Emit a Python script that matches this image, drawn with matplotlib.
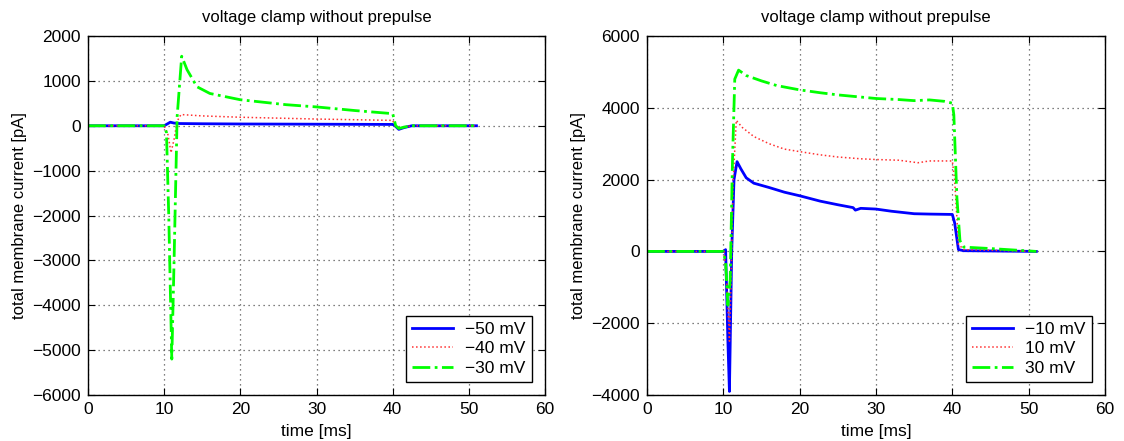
import matplotlib
matplotlib.use("Agg")
import matplotlib.pyplot as plt

# left panel: -50, -40, -30 mV steps
t_m50 = [0, 10, 10.4, 10.8, 11.3, 12, 15, 20, 30, 40, 40.3, 40.8, 41.5, 42.5, 51]
i_m50 = [0, 0, 40, 80, 60, 50, 45, 40, 35, 30, 0, -80, -40, 0, 0]

t_m40 = [0, 10, 10.5, 10.9, 11.3, 11.7, 12.2, 15, 20, 30, 40, 40.3, 40.8, 41.5, 42.5, 51]
i_m40 = [0, 0, -200, -600, -300, 100, 250, 220, 190, 150, 120, 0, -70, -30, 0, 0]

t_m30 = [0, 10, 10.3, 10.6, 11.0, 11.3, 11.7, 12.3, 13, 14.3, 16, 20, 26, 30, 35, 40,
         40.4, 40.8, 41.5, 42.5, 51]
i_m30 = [0, 0, -150, -2000, -5200, -3000, 200, 1550, 1250, 870, 720, 580, 470, 420, 340, 270,
         0, -60, -30, 0, 0]

# right panel: -10, 10, 30 mV steps
t_m10 = [0, 10.1, 10.3, 10.6, 10.8, 11.1, 11.4, 11.8, 12.3, 13, 14, 16, 18, 20, 22.7, 25, 27,
         27.3, 28, 30, 32, 35, 37, 40, 40.3, 40.8, 41.5, 51]
i_m10 = [0, 0, 50, -2500, -3900, 0, 2000, 2500, 2300, 2050, 1900, 1780, 1650, 1550, 1400, 1300,
         1220, 1150, 1200, 1180, 1120, 1050, 1040, 1030, 800, 50, 20, 0]

t_p10 = [0, 10.1, 10.5, 10.8, 11.0, 11.3, 11.7, 12.5, 14, 16, 18, 20, 22.7, 25, 28, 30, 33,
         35.5, 37, 40, 40.3, 40.8, 41.5, 45, 51]
i_p10 = [0, 0, -1000, -2500, -1000, 2000, 3650, 3450, 3200, 3000, 2850, 2780, 2690, 2630, 2580,
         2560, 2540, 2470, 2520, 2520, 2000, 200, 50, 30, 0]

t_p30 = [0, 10.0, 10.3, 10.6, 10.9, 11.2, 11.5, 12.0, 13, 15, 17, 20, 22.7, 25, 28, 30, 33, 35,
         37, 39, 40, 40.2, 40.6, 41.0, 41.5, 45, 51]
i_p30 = [0, 0, -300, -1500, -800, 2500, 4800, 5050, 4900, 4750, 4620, 4500, 4420, 4360, 4300,
         4260, 4230, 4200, 4220, 4180, 4130, 3800, 1500, 300, 120, 80, 0]

plt.rcParams['font.family'] = ['Liberation Sans', 'DejaVu Sans']
plt.rcParams['font.size'] = 12

fig = plt.figure(figsize=(11.24, 4.41), dpi=100)
ax1 = fig.add_axes([0.0783, 0.1043, 0.4066, 0.814])
ax2 = fig.add_axes([0.5756, 0.1043, 0.4075, 0.814])


def style(ax, yticks):
    ax.set_xlim(0, 60)
    ax.set_xticks(range(0, 61, 10))
    ax.set_ylim(yticks[0], yticks[-1])
    ax.set_yticks(yticks)
    ax.grid(True, linestyle=(0, (1, 3)), color='#555555', linewidth=0.9)
    ax.tick_params(direction='in', top=True, right=True, length=5, labelsize=12.5, pad=5)
    for s in ax.spines.values():
        s.set_linewidth(1.0)
    ax.set_title("voltage clamp without prepulse", fontsize=12, pad=10)
    ax.set_xlabel("time [ms]", fontsize=12.5, labelpad=5)
    ax.set_ylabel("total membrane current [pA]", fontsize=12)


ax1.plot(t_m50, i_m50, color='#0000ff', linewidth=2, label='\u221250 mV')
ax1.plot(t_m40, i_m40, color='#ff3030', linestyle=':', linewidth=1.1, label='\u221240 mV')
ax1.plot(t_m30, i_m30, color='#00ff00', linestyle='-.', linewidth=2, label='\u221230 mV')
style(ax1, list(range(-6000, 2001, 1000)))

ax2.plot(t_m10, i_m10, color='#0000ff', linewidth=2, label='\u221210 mV')
ax2.plot(t_p10, i_p10, color='#ff3030', linestyle=':', linewidth=1.1, label='10 mV')
ax2.plot(t_p30, i_p30, color='#00ff00', linestyle='-.', linewidth=2, label='30 mV')
style(ax2, list(range(-4000, 6001, 2000)))

for ax in (ax1, ax2):
    leg = ax.legend(loc='lower right', fancybox=False, framealpha=1, edgecolor='black',
                    fontsize=12.5, borderpad=0.35, labelspacing=0.25, handlelength=2.4,
                    handletextpad=0.7, borderaxespad=0.75)
    leg.get_frame().set_linewidth(1.0)

fig.savefig("out.png", dpi=100)
